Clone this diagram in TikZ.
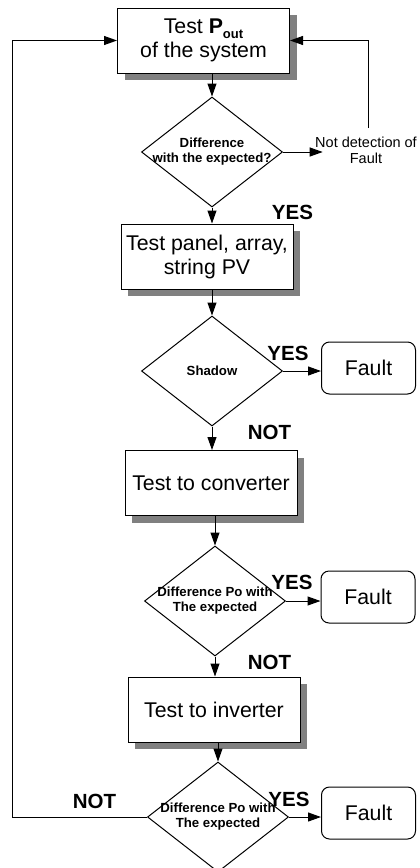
\documentclass[tikz,border=0pt]{standalone}
\usepackage{fontspec}
\setmainfont{Liberation Sans}
\usetikzlibrary{shapes.geometric,arrows.meta,shadows}

\newcommand{\boxfont}{\fontsize{21.3}{24}\selectfont}
\newcommand{\diafont}{\fontsize{13.2}{15}\selectfont\bfseries}
\newcommand{\ansfont}{\fontsize{20.5}{22}\selectfont\bfseries}

\begin{document}
\begin{tikzpicture}[x=1pt, y=-1pt, line width=1pt,
  testbox/.style={draw, fill=white, minimum width=172pt, minimum height=65pt, align=center, font=\boxfont, inner sep=0pt,
    drop shadow={shadow xshift=7pt, shadow yshift=-7pt, fill=black!50, opacity=1}},
  dia/.style={draw, diamond, minimum width=141pt, minimum height=110pt, inner sep=0pt,
    label={[align=center, font=\diafont, inner sep=0pt]center:#1}},
  fault/.style={draw, rounded corners=8pt, minimum width=94pt, minimum height=52pt, font=\boxfont, inner sep=0pt},
  ans/.style={font=\ansfont, inner sep=0pt},
  arr/.style={-{Triangle[length=13pt, width=9pt]}}]
  \useasboundingbox (0,0) rectangle (420,868);
  \node[testbox] (t1) at (203.5,40.5) {Test \textbf{P}\raisebox{-5pt}{\fontsize{13}{13}\selectfont\bfseries out}\\of the system};
  \node[testbox] (t2) at (207,256.5) {Test panel, array,\\string PV};
  \node[testbox] (t3) at (211,483) {Test to converter};
  \node[testbox] (t4) at (214,709.5) {Test to inverter};
  \node[dia={Difference\\with the expected?}] (d1) at (212,152) {};
  \node[dia={Shadow}] (d2) at (212,371) {};
  \node[dia={Difference Po with\\The expected}] (d3) at (215,601) {};
  \node[dia={Difference Po with\\The expected}] (d4) at (218,817) {};
  \node[font=\fontsize{14.5}{16}\selectfont, align=center, inner sep=0pt] (nd) at (366,150) {Not detection of\\Fault};
  \node[fault] (f2) at (368.5,368) {Fault};
  \node[fault] (f3) at (368,597) {Fault};
  \node[fault] (f4) at (368.5,813) {Fault};
  \node[ans] (y1) at (292.5,212) {YES};
  \node[ans] (y2) at (288,353) {YES};
  \node[ans] (n2) at (269.5,432) {NOT};
  \node[ans] (y3) at (292,582.5) {YES};
  \node[ans] (n3) at (269.5,662.5) {NOT};
  \node[ans] (y4) at (289,799) {YES};
  \node[ans] (n4) at (94.5,801.5) {NOT};
  \coordinate (back) at (12,40);
  \coordinate (up) at (368,128);
  \draw[arr] (t1.south -| d1.north) -- (d1.north);
  \draw[arr] (d1.south) -- (d1.south |- t2.north);
  \draw[arr] (t2.south -| d2.north) -- (d2.north);
  \draw[arr] (d2.south) -- (d2.south |- t3.north);
  \draw[arr] (t3.south -| d3.north) -- (d3.north);
  \draw[arr] (d3.south) -- (d3.south |- t4.north);
  \draw[arr] (t4.south -| d4.north) -- (d4.north);
  \draw[arr] (d1.east) -- ([xshift=8pt]d1.east -| nd.west);
  \draw[arr] (up) -- (up |- t1.east) -- (t1.east);
  \draw[arr] (d2.east) -- (d2.east -| f2.west);
  \draw[arr] (d3.east) -- (d3.east -| f3.west);
  \draw[arr] (d4.east) -- (d4.east -| f4.west);
  \draw[arr] (d4.west) -- (d4.west -| back) |- (t1.west);
\end{tikzpicture}
\end{document}
